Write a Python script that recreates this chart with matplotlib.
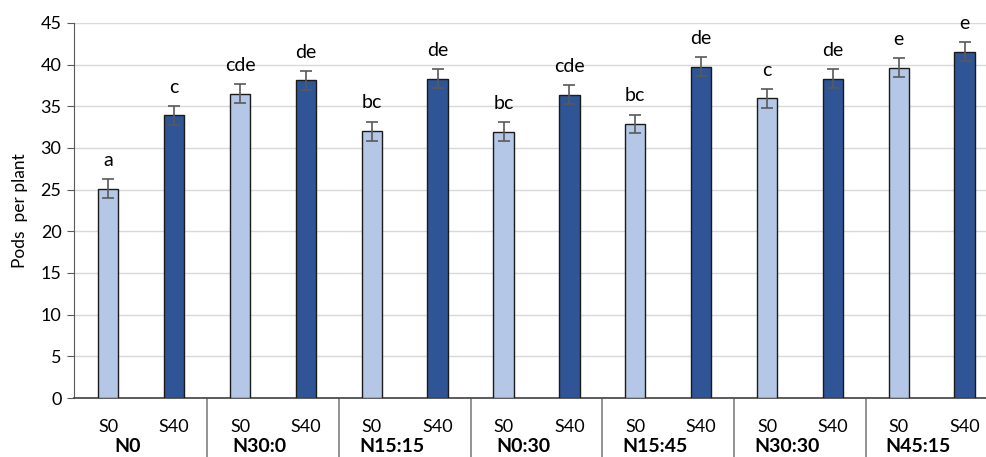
import numpy as np
import matplotlib
matplotlib.use('Agg')
import matplotlib.pyplot as plt

plt.rcParams['font.family'] = ['Lato', 'DejaVu Sans']

# 数据
groups = ['N0', 'N30:0', 'N15:15', 'N0:30', 'N15:45', 'N30:30', 'N45:15']
sulfur = ['S0', 'S40']
pods_s0 = [25.1, 36.5, 32.0, 31.95, 32.9, 35.95, 39.6]
pods_s40 = [33.9, 38.1, 38.3, 36.4, 39.75, 38.3, 41.55]
err_s0 = [1.15, 1.15, 1.15, 1.15, 1.1, 1.15, 1.15]
err_s40 = [1.1, 1.1, 1.15, 1.15, 1.1, 1.15, 1.15]
letters_s0 = ['a', 'cde', 'bc', 'bc', 'bc', 'c', 'e']
letters_s40 = ['c', 'de', 'de', 'cde', 'de', 'de', 'e']

light = '#b4c7e7'
dark = '#2f5597'

fig = plt.figure(figsize=(9.87, 4.57), dpi=100)
ax = fig.add_axes([0.075, 0.129, 0.925, 0.821])

# 交错排列 S0 / S40
vals, errs, cols, letters, ticklabels = [], [], [], [], []
for i in range(len(groups)):
    vals += [pods_s0[i], pods_s40[i]]
    errs += [err_s0[i], err_s40[i]]
    cols += [light, dark]
    letters += [letters_s0[i], letters_s40[i]]
    ticklabels += sulfur
x = np.arange(len(vals))

ax.bar(x, vals, width=0.31, color=cols, edgecolor='#1a1a1a', linewidth=1.0, zorder=3)
ax.errorbar(x, vals, yerr=errs, fmt='none', ecolor='#595959', elinewidth=1.2,
            capsize=4, capthick=1.2, zorder=4)

for xi, v, e, t in zip(x, vals, errs, letters):
    ax.annotate(t, (xi, v + e), xytext=(0, 9.5), textcoords='offset points',
                ha='center', va='baseline', fontsize=14)

ax.set_ylim(0, 45)
ax.set_yticks(np.arange(0, 46, 5))
ax.set_xlim(-0.52, 13.34)
ax.grid(axis='y', color='#d9d9d9', linewidth=1.0, zorder=0)
ax.set_axisbelow(True)
for s in ['top', 'right']:
    ax.spines[s].set_visible(False)
ax.spines['left'].set_color('#595959')
ax.spines['bottom'].set_color('#404040')
ax.spines['bottom'].set_linewidth(1.2)

ax.tick_params(axis='y', labelsize=13, length=5, color='#595959', pad=4)
ax.set_xticks(x)
ax.set_xticklabels(ticklabels, fontsize=13)
ax.tick_params(axis='x', which='major', length=0, pad=15)

# 组之间的分隔线
ax.set_xticks(np.arange(1.5, 13, 2), minor=True)
ax.tick_params(axis='x', which='minor', length=44, width=1.2, color='#7f7f7f')

for i, g in enumerate(groups):
    ax.text(2 * i + 0.3, -0.13, g, transform=ax.get_xaxis_transform(),
            ha='center', va='center', fontsize=14, fontweight='bold')

ax.set_ylabel('Pods  per plant', fontsize=12.5)
ax.yaxis.set_label_coords(-0.05, 0.5)

fig.savefig('out.png', dpi=100)
